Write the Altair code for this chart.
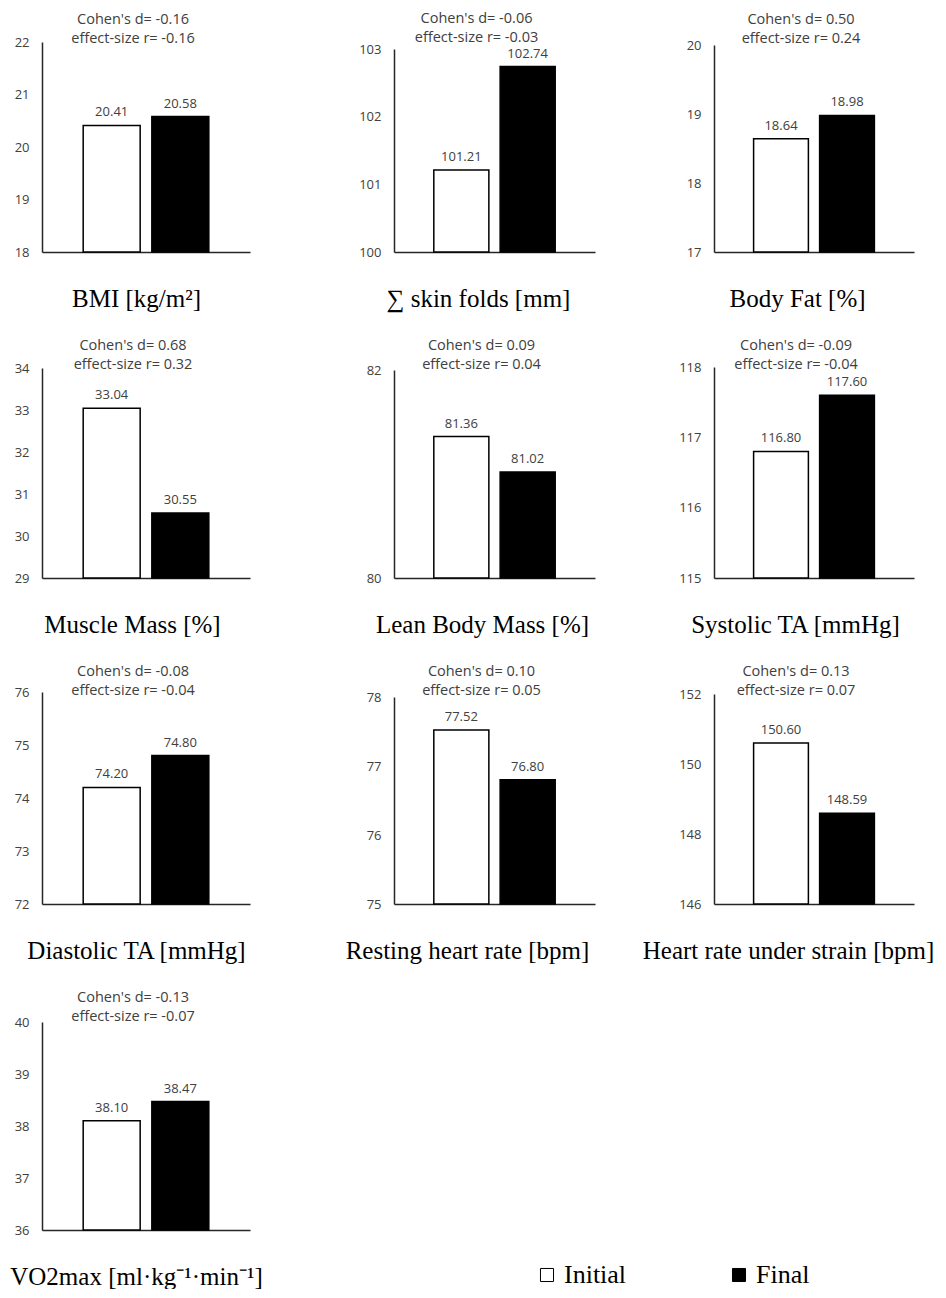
import altair as alt
import pandas as pd

# ---- data ----
titles = ["BMI [kg/m²]", "∑ skin folds [mm]", "Body Fat [%]",
          "Muscle Mass [%]", "Lean Body Mass [%]", "Systolic TA [mmHg]",
          "Diastolic TA [mmHg]", "Resting heart rate [bpm]", "Heart rate under strain [bpm]",
          "VO2max [ml·kg⁻¹·min⁻¹]"]
initial = [20.41, 101.21, 18.64, 33.04, 81.36, 116.80, 74.20, 77.52, 150.60, 38.10]
final = [20.58, 102.74, 18.98, 30.55, 81.02, 117.60, 74.80, 76.80, 148.59, 38.47]
cohen_d = ["-0.16", "-0.06", "0.50", "0.68", "0.09", "-0.09", "-0.08", "0.10", "0.13", "-0.13"]
effect_r = ["-0.16", "-0.03", "0.24", "0.32", "0.04", "-0.04", "-0.04", "0.05", "0.07", "-0.07"]
y_min = [18, 100, 17, 29, 80, 115, 72, 75, 146, 36]
y_max = [22, 103, 20, 34, 82, 118, 76, 78, 152, 40]
y_step = [1, 1, 1, 1, 1, 1, 1, 1, 2, 1]
groups = ["Initial", "Final"]

# ---- style ----
SANS = "Open Sans"
SERIF = "Liberation Serif"
GREY = "#404040"
AXIS = "#262626"

col_group_w = [233, 201, 200]
col_vis_w = [208, 201, 200]
H = 212
# drawn height of each panel's value axis (panels differ slightly in the original)
plot_h = [210, 203, 207, 210, 208, 211, 212, 207, 210, 208]
# horizontal centre of each panel's bottom caption, measured from the plot's left edge
caption_x = [94, 84, 83, 90, 88, 81, 94, 73, 74, 94]

panels = []
for i in range(len(titles)):
    c = i % 3
    wg, wv = col_group_w[c], col_vis_w[c]
    ext = 36 if len(str(y_max[i])) >= 3 else 26
    center = (wv - ext) / 2
    # keep the two-line header at the same height in every panel of a row
    head_offset = min(0, H - plot_h[i] - 6.5) - 5.5
    df = pd.DataFrame({"Time": groups, "Value": [initial[i], final[i]]})
    ticks = list(range(y_min[i], y_max[i] + 1, y_step[i]))
    base = alt.Chart(df).encode(
        x=alt.X("Time:N", sort=groups,
                scale=alt.Scale(range=[0, wv], paddingInner=0.17, paddingOuter=0.6),
                axis=alt.Axis(labels=False, ticks=False, grid=False,
                              domainColor=AXIS, domainWidth=1.5,
                              title=titles[i], titleFont=SERIF, titleFontSize=25,
                              titleFontWeight="normal", titleColor="black",
                              titleX=caption_x[i], titleY=54, titleAlign="center",
                              titleBaseline="alphabetic")),
        y=alt.Y("Value:Q",
                scale=alt.Scale(domain=[y_min[i], y_max[i]], zero=False, nice=False,
                                range=[H, H - plot_h[i]]),
                axis=alt.Axis(values=ticks, format="d", grid=False, ticks=False,
                              domainColor=AXIS, domainWidth=1.5,
                              labelColor=GREY, labelFont=SANS, labelFontSize=13,
                              labelPadding=13, labelOverlap=False, title=None)),
    )
    bars = base.mark_bar(stroke="black", strokeWidth=1.5).encode(
        y2=alt.Y2Datum(y_min[i]),
        fill=alt.Fill("Time:N", sort=groups,
                      scale=alt.Scale(domain=groups, range=["white", "black"]),
                      legend=alt.Legend(title=None, orient="none", legendX=492, legendY=1222,
                                        direction="horizontal", labelFont=SERIF,
                                        labelFontSize=26, labelColor="black",
                                        symbolType="square", symbolSize=170,
                                        symbolStrokeColor="black", symbolStrokeWidth=1,
                                        columnPadding=99, labelOffset=4))
    )
    labels = base.mark_text(baseline="alphabetic", dy=-9, font=SANS, fontSize=13,
                            color=GREY).encode(text=alt.Text("Value:Q", format=".2f"))
    panel = alt.layer(bars, labels).properties(
        width=wg, height=H,
        title=alt.Title(text=[f"Cohen's d= {cohen_d[i]}", f"effect-size r= {effect_r[i]}"],
                        anchor="middle", frame="group", dx=center - wg / 2,
                        font=SANS, fontSize=14.5, fontWeight="normal", color=GREY,
                        lineHeight=19, offset=head_offset),
    )
    panels.append(panel)

chart = alt.concat(*panels, columns=3, spacing={"row": 114, "column": 119},
                   bounds="flush").properties(
    padding={"left": 1, "top": 3, "right": 0, "bottom": 0},
    background="white",
).configure_view(strokeWidth=0, stroke="transparent")

chart.save("out.html", embed_options={"renderer": "svg", "actions": False})
